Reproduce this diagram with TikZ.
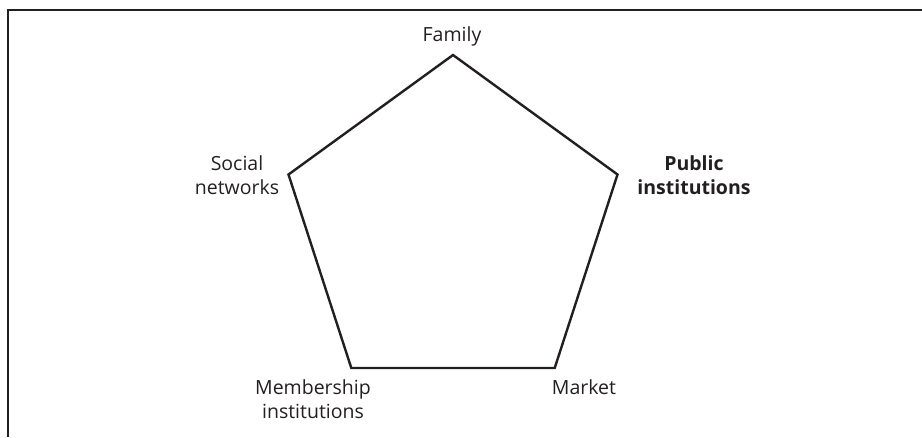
\documentclass[tikz,border=0pt]{standalone}
\usepackage{fontspec}
\setmainfont{Open Sans}
\definecolor{ink}{HTML}{231F20}
\begin{document}
\begin{tikzpicture}[x=1pt,y=-1pt,
  lbl/.style={align=center,font=\fontsize{19.5}{24.5}\selectfont,text=ink,inner sep=0pt},
  edge/.style={draw=ink,line width=2.4pt,line join=miter},
  frame/.style={draw=ink,line width=2pt}]
\useasboundingbox (0,0) rectangle (922,437);
\coordinate (fl) at (8,437);
\coordinate (ft) at (8,10);
\coordinate (fr) at (922,10);
\draw[frame] (fl) -- (ft) -- (fr);
\coordinate (T) at (453,55);
\coordinate (R) at (617.5,174.5);
\coordinate (BR) at (554.7,368);
\coordinate (BL) at (351.3,368);
\coordinate (L) at (288.5,174.5);
\draw[edge] (T) -- (R) -- (BR) -- (BL) -- (L) -- cycle;
\node[lbl] (family) at (452,36) {Family};
\node[lbl] (social) at (237,175) {Social\\networks};
\node[lbl,font=\fontsize{19.5}{24.5}\selectfont\bfseries] (public) at (694,175) {Public\\institutions};
\node[lbl] (member) at (313,399) {Membership\\institutions};
\node[lbl] (market) at (584,387) {Market};
\end{tikzpicture}
\end{document}
